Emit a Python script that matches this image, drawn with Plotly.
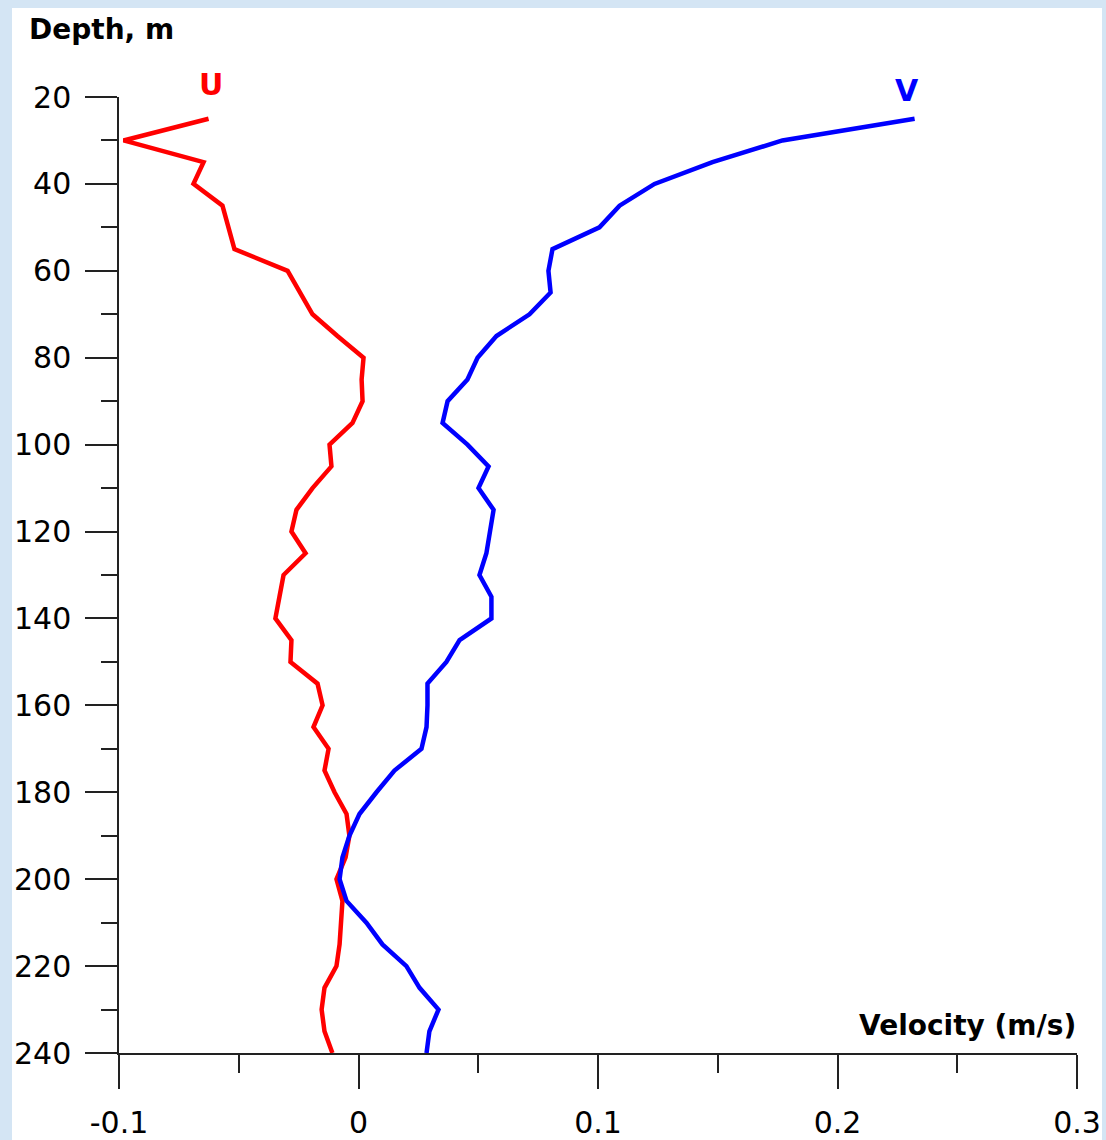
import plotly.graph_objects as go

# Depth levels (m) of the current profile
depth = [25, 30, 35, 40, 45, 50, 55, 60, 65, 70, 75, 80, 85, 90, 95, 100,
         105, 110, 115, 120, 125, 130, 135, 140, 145, 150, 155, 160, 165,
         170, 175, 180, 185, 190, 195, 200, 205, 210, 215, 220, 225, 230,
         235, 240]

# Eastward (U) velocity component, m/s
u_vel = [-0.0626, -0.0981, -0.0647, -0.0689, -0.0568, -0.0543, -0.0518,
         -0.0296, -0.0246, -0.0192, -0.0088, 0.0021, 0.0013, 0.0017,
         -0.0025, -0.0121, -0.0113, -0.0192, -0.0259, -0.0280, -0.0221,
         -0.0313, -0.0330, -0.0347, -0.0280, -0.0284, -0.0171, -0.0150,
         -0.0188, -0.0125, -0.0142, -0.0100, -0.0050, -0.0038, -0.0054,
         -0.0092, -0.0067, -0.0071, -0.0079, -0.0092, -0.0142, -0.0154,
         -0.0142, -0.0109]

# Northward (V) velocity component, m/s
v_vel = [0.2322, 0.1770, 0.1478, 0.1236, 0.1090, 0.1006, 0.0810, 0.0793,
         0.0802, 0.0714, 0.0576, 0.0497, 0.0455, 0.0372, 0.0351, 0.0455,
         0.0543, 0.0501, 0.0564, 0.0551, 0.0534, 0.0505, 0.0555, 0.0555,
         0.0422, 0.0367, 0.0288, 0.0288, 0.0284, 0.0263, 0.0150, 0.0075,
         0.0004, -0.0038, -0.0067, -0.0079, -0.0050, 0.0033, 0.0100,
         0.0200, 0.0255, 0.0334, 0.0296, 0.0284]

x_ticks = [-0.1, 0, 0.1, 0.2, 0.3]
x_tick_labels = ["-0.1", "0", "0.1", "0.2", "0.3"]
y_ticks = [20, 40, 60, 80, 100, 120, 140, 160, 180, 200, 220, 240]

FONT = "DejaVu Sans, Verdana, sans-serif"
AXIS_COLOR = "#222222"

fig = go.Figure()
fig.add_trace(go.Scatter(x=u_vel, y=depth, mode="lines", name="U",
                         line=dict(color="#ff0000", width=4.5)))
fig.add_trace(go.Scatter(x=v_vel, y=depth, mode="lines", name="V",
                         line=dict(color="#0000ff", width=4.5)))

W, H = 1106, 1140
L, R, T, B = 119, 29, 97, 87
pw, ph = W - L - R, H - T - B


def px(xp):
    return (xp - L) / pw


def py(yp):
    return (H - B - yp) / ph


axis_common = dict(showgrid=False, zeroline=False, showline=True,
                   automargin=False,
                   linecolor=AXIS_COLOR, linewidth=1.5, ticks="outside",
                   tickcolor=AXIS_COLOR, tickwidth=1.5,
                   tickfont=dict(family=FONT, size=30, color="black"))

fig.update_xaxes(range=[-0.1, 0.3], tickvals=x_ticks, ticktext=x_tick_labels,
                 ticklen=34, ticklabelstandoff=8,
                 minor=dict(dtick=0.05, tick0=-0.1, ticklen=18, ticks="outside",
                            tickcolor=AXIS_COLOR, tickwidth=1.5),
                 **axis_common)
fig.update_yaxes(range=[240, 20], tickvals=y_ticks, ticklen=32,
                 ticklabelstandoff=8,
                 minor=dict(dtick=10, tick0=20, ticklen=16, ticks="outside",
                            tickcolor=AXIS_COLOR, tickwidth=1.5),
                 **axis_common)

# white panel on the light-blue page
fig.add_shape(type="rect", xref="paper", yref="paper", layer="below",
              x0=px(12), x1=px(1102), y0=py(1145), y1=py(8),
              fillcolor="white", line=dict(width=0))

fig.add_annotation(text="<b>Depth, m</b>", xref="paper", yref="paper",
                   x=px(27), y=py(29), xanchor="left", yanchor="middle",
                   showarrow=False, font=dict(family=FONT, size=28, color="black"))
fig.add_annotation(text="<b>Velocity (m/s)</b>", xref="paper", yref="paper",
                   x=px(1078), y=py(1025), xanchor="right", yanchor="middle",
                   showarrow=False, font=dict(family=FONT, size=28, color="black"))
fig.add_annotation(text="<b>U</b>", xref="paper", yref="paper",
                   x=px(211), y=py(85), xanchor="center", yanchor="middle",
                   showarrow=False, font=dict(family=FONT, size=30, color="#ff0000"))
fig.add_annotation(text="<b>V</b>", xref="paper", yref="paper",
                   x=px(907), y=py(90), xanchor="center", yanchor="middle",
                   showarrow=False, font=dict(family=FONT, size=30, color="#0000ff"))

fig.update_layout(width=W, height=H, margin=dict(l=L, r=R, t=T, b=B),
                  paper_bgcolor="#d4e5f4", plot_bgcolor="white",
                  showlegend=False)

fig.write_html("out.html")
